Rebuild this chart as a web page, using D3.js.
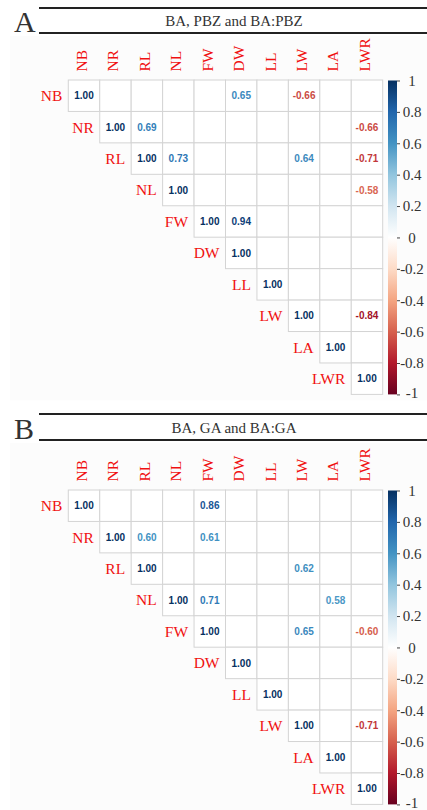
<!DOCTYPE html>
<html>
<head>
<meta charset="utf-8">
<script src="https://cdn.jsdelivr.net/npm/d3@7"></script>
<style>
  body { margin: 0; background: #fff; }
  svg { display: block; }
</style>
</head>
<body>
<div id="chart"></div>
<script>
// traits, in the order of rows and columns
var traits = ["NB", "NR", "RL", "NL", "FW", "DW", "LL", "LW", "LA", "LWR"];

// shown correlations [row, column, r] for panel A (BA, PBZ and BA:PBZ)
var corrA = [
    ["NB", "NB", 1.00], ["NB", "DW", 0.65], ["NB", "LW", -0.66],
    ["NR", "NR", 1.00], ["NR", "RL", 0.69], ["NR", "LWR", -0.66],
    ["RL", "RL", 1.00], ["RL", "NL", 0.73], ["RL", "LW", 0.64], ["RL", "LWR", -0.71],
    ["NL", "NL", 1.00], ["NL", "LWR", -0.58],
    ["FW", "FW", 1.00], ["FW", "DW", 0.94],
    ["DW", "DW", 1.00],
    ["LL", "LL", 1.00],
    ["LW", "LW", 1.00], ["LW", "LWR", -0.84],
    ["LA", "LA", 1.00],
    ["LWR", "LWR", 1.00]
];

// shown correlations for panel B (BA, GA and BA:GA)
var corrB = [
    ["NB", "NB", 1.00], ["NB", "FW", 0.86],
    ["NR", "NR", 1.00], ["NR", "RL", 0.60], ["NR", "FW", 0.61],
    ["RL", "RL", 1.00], ["RL", "LW", 0.62],
    ["NL", "NL", 1.00], ["NL", "FW", 0.71], ["NL", "LA", 0.58],
    ["FW", "FW", 1.00], ["FW", "LW", 0.65], ["FW", "LWR", -0.60],
    ["DW", "DW", 1.00],
    ["LL", "LL", 1.00],
    ["LW", "LW", 1.00], ["LW", "LWR", -0.71],
    ["LA", "LA", 1.00],
    ["LWR", "LWR", 1.00]
];

var legendTicks = [1, 0.8, 0.6, 0.4, 0.2, 0, -0.2, -0.4, -0.6, -0.8, -1];

// RdBu palette used by corrplot
var paletteStops = [-1, -0.8, -0.6, -0.4, -0.2, 0, 0.2, 0.4, 0.6, 0.8, 1];
var paletteColors = ["#67001F", "#B2182B", "#D6604D", "#F4A582", "#FDDBC7", "#FFFFFF",
                     "#D1E5F0", "#92C5DE", "#4393C3", "#2166AC", "#053061"];

var width = 427, height = 810;
var serif = "'Liberation Serif', 'Times New Roman', serif";

var svg = d3.select("#chart").append("svg")
    .attr("width", width)
    .attr("height", height);

var color = d3.scaleLinear().domain(paletteStops).range(paletteColors);

// gradient for the colour bar
var grad = svg.append("defs").append("linearGradient")
    .attr("id", "cbar")
    .attr("x1", 0).attr("y1", 1).attr("x2", 0).attr("y2", 0);
grad.selectAll("stop")
    .data(paletteStops)
    .enter().append("stop")
    .attr("offset", function (d) { return (d + 1) / 2; })
    .attr("stop-color", function (d) { return color(d); });

var gridLeft = 68.3, gridRight = 382.7, gridSize = 314.4;

var panels = [
    {letter: "A", title: "BA, PBZ and BA:PBZ", data: corrA, top: 8, bottom: 33, gridTop: 80},
    {letter: "B", title: "BA, GA and BA:GA", data: corrB, top: 414, bottom: 440, gridTop: 490}
];

panels.forEach(function (p) {
    var g = svg.append("g");

    // faint plot background
    g.append("rect")
        .attr("x", 10).attr("y", p.bottom + 3)
        .attr("width", width - 10).attr("height", p.gridTop + gridSize - p.bottom + 3)
        .attr("fill", "#fcfcfc");

    // header
    g.append("text")
        .attr("x", 14).attr("y", p.bottom - 1)
        .attr("font-family", serif).attr("font-size", 30)
        .attr("fill", "#333")
        .text(p.letter);
    [p.top, p.bottom].forEach(function (yy) {
        g.append("line")
            .attr("x1", 39).attr("x2", width)
            .attr("y1", yy).attr("y2", yy)
            .attr("stroke", "#222").attr("stroke-width", 2);
    });
    g.append("text")
        .attr("x", 234).attr("y", (p.top + p.bottom) / 2 + 5.5)
        .attr("text-anchor", "middle")
        .attr("font-family", serif).attr("font-size", 15)
        .attr("fill", "#333")
        .text(p.title);

    var x = d3.scaleBand().domain(traits).range([gridLeft, gridRight]);
    var y = d3.scaleBand().domain(traits).range([p.gridTop, p.gridTop + gridSize]);

    // upper triangle cells
    var cells = [];
    traits.forEach(function (r, i) {
        traits.forEach(function (c, j) {
            if (j >= i) cells.push([r, c]);
        });
    });
    g.selectAll(".cell")
        .data(cells)
        .enter().append("rect")
        .attr("class", "cell")
        .attr("x", function (d) { return x(d[1]); })
        .attr("y", function (d) { return y(d[0]); })
        .attr("width", x.bandwidth())
        .attr("height", y.bandwidth())
        .attr("fill", "#fff")
        .attr("stroke", "#d4d4d4")
        .attr("stroke-width", 1);

    // column labels
    g.selectAll(".collab")
        .data(traits)
        .enter().append("text")
        .attr("class", "collab")
        .attr("transform", function (d) {
            return "translate(" + (x(d) + x.bandwidth() / 2 - 2.5) + "," + (p.gridTop - 8.5) + ") rotate(-90)";
        })
        .attr("dy", "0.35em")
        .attr("font-family", serif).attr("font-size", 15.5)
        .attr("fill", "#f01010")
        .text(function (d) { return d; });

    // row labels
    g.selectAll(".rowlab")
        .data(traits)
        .enter().append("text")
        .attr("class", "rowlab")
        .attr("x", function (d) { return x(d) - 6; })
        .attr("y", function (d) { return y(d) + y.bandwidth() / 2; })
        .attr("dy", "0.35em")
        .attr("text-anchor", "end")
        .attr("font-family", serif).attr("font-size", 15.5)
        .attr("fill", "#f01010")
        .text(function (d) { return d; });

    // coefficients
    g.selectAll(".num")
        .data(p.data)
        .enter().append("text")
        .attr("class", "num")
        .attr("x", function (d) { return x(d[1]) + x.bandwidth() / 2; })
        .attr("y", function (d) { return y(d[0]) + y.bandwidth() / 2; })
        .attr("dy", "0.36em")
        .attr("text-anchor", "middle")
        .attr("font-family", "'Liberation Sans', Arial, sans-serif")
        .attr("font-weight", "bold").attr("font-size", 10)
        .attr("fill", function (d) { return color(d[2]); })
        .text(function (d) { return d[2].toFixed(2); });

    // colour bar
    var cy = d3.scaleLinear().domain([-1, 1]).range([p.gridTop + gridSize, p.gridTop + 0.5]);
    g.append("rect")
        .attr("x", 388).attr("y", cy(1))
        .attr("width", 9).attr("height", cy(-1) - cy(1))
        .attr("fill", "url(#cbar)");
    var ax = g.append("g")
        .attr("transform", "translate(397,0)")
        .call(d3.axisRight(cy).tickValues(legendTicks).tickSize(3)
            .tickFormat(function (d) { return String(d); }));
    ax.select(".domain").remove();
    ax.selectAll(".tick line").attr("stroke", "#444");
    ax.selectAll(".tick text")
        .attr("x", 15)
        .attr("dy", function (d) { return d === -1 ? "0.22em" : "0.32em"; })
        .attr("text-anchor", "middle")
        .attr("font-family", serif).attr("font-size", 15)
        .attr("fill", "#333");
});
</script>
</body>
</html>
